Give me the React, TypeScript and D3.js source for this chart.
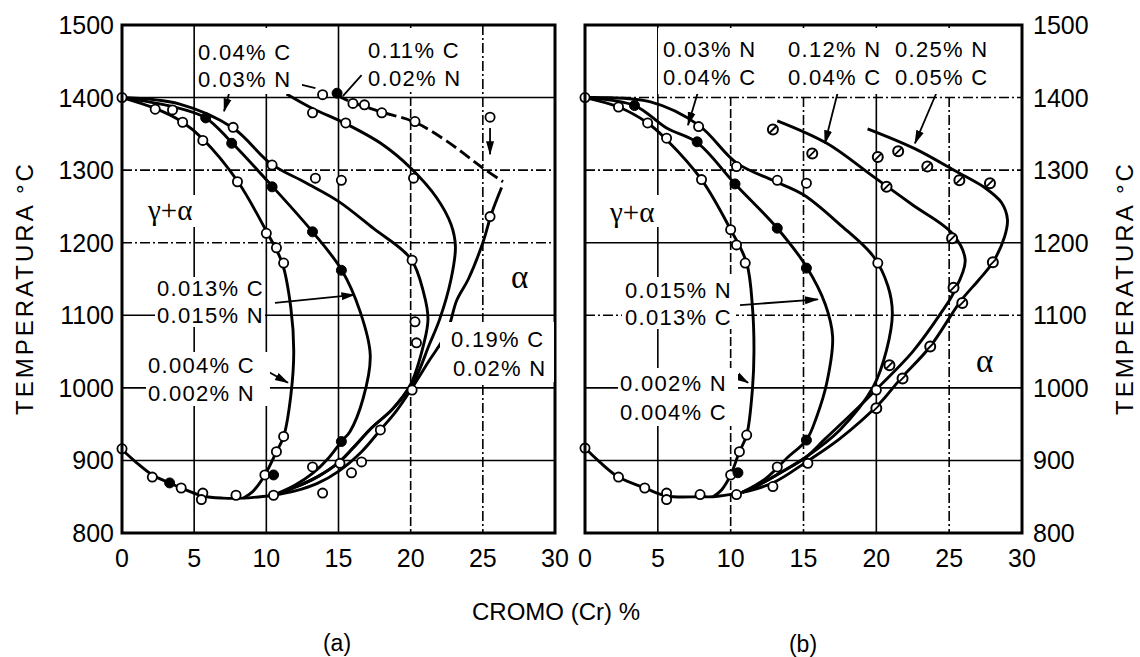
import React from 'react';
import * as d3 from 'd3';

type P = [number, number];

// ---------- axes ----------
const crTicks = [0, 5, 10, 15, 20, 25, 30];
const tempTicks = [800, 900, 1000, 1100, 1200, 1300, 1400, 1500];
const gridCr = [5, 10, 15, 20, 25];
const gridTemp = [900, 1000, 1100, 1200, 1300, 1400];

// ---------- panel (a) ----------
const aBottom: P[] = [[0, 915], [1, 897], [2.1, 880], [3.3, 869], [4.1, 862], [5.6, 851], [7, 848], [8.4, 848], [10.5, 852]];
const aLoop1: P[] = [[0, 1400], [2.3, 1385], [4.2, 1366], [5.6, 1343], [8, 1285], [10, 1216], [11.1, 1172], [11.7, 1110], [11.9, 1050], [11.7, 990], [11.2, 933], [10.7, 912], [9.9, 880], [9.1, 858], [8.4, 848]];
const aLoop2: P[] = [[0, 1400], [3.4, 1388], [5.8, 1372], [7.6, 1338], [10.4, 1278], [13.2, 1215], [15.2, 1163], [16.5, 1105], [17.2, 1045], [16.7, 985], [15.8, 940], [15.2, 926], [14.3, 903], [13.2, 882], [12, 866], [10.5, 852]];
const aLoop3: P[] = [[0, 1400], [4, 1391], [7.7, 1358], [10.3, 1309], [12.7, 1283], [15, 1257], [17.4, 1220], [20, 1178], [20.9, 1131], [21.2, 1095], [20.9, 1060], [20, 1005], [18.7, 970], [17.3, 945], [16, 917], [15, 897], [13.5, 877], [12, 863], [10.5, 852]];
const aLoop4: P[] = [[11.4, 1405], [13.2, 1385], [15.5, 1364], [18, 1336], [20, 1303], [21.8, 1262], [22.8, 1225], [23.1, 1195], [22.8, 1150], [22, 1094], [21.3, 1060], [20.2, 1008], [18.8, 972], [17.3, 945], [16, 917], [15, 897], [13.5, 877], [12, 863], [10.5, 852]];
const aLoop5Upper: P[] = [[14.9, 1403], [16, 1393], [18, 1380], [20.3, 1366], [22.5, 1340], [25, 1303], [26.4, 1284]];
const aLoop5Lower: P[] = [[26.3, 1276], [25.6, 1240], [25, 1200], [24, 1150], [23.2, 1121], [22.5, 1076], [21.2, 1035], [20, 997], [19, 968], [17.9, 942], [16.6, 912], [15, 885], [13.5, 868], [12, 858], [10.5, 852]];
const aOpen: P[] = [[0, 1400], [0, 916], [2.1, 877], [4.1, 862], [5.6, 855], [5.5, 846], [7.9, 852], [2.3, 1384], [3.5, 1383], [4.2, 1366], [5.6, 1341], [8.0, 1284], [10.0, 1213], [10.7, 1193], [11.2, 1172], [11.2, 933], [10.7, 912], [9.9, 880], [7.7, 1359], [10.4, 1307], [13.4, 1289], [15.2, 1286], [20.1, 1176], [13.2, 1379], [13.9, 1404], [15.5, 1365], [20.2, 1289], [16.0, 1392], [16.8, 1390], [18.0, 1379], [20.3, 1367], [25.5, 1373], [25.5, 1236], [20.3, 1091], [20.4, 1062], [20.1, 997], [17.9, 942], [16.6, 898], [15.9, 883], [13.9, 855], [13.2, 891], [15.1, 896], [10.5, 852]];
const aFilled: P[] = [[3.3, 869], [5.8, 1372], [7.6, 1337], [10.4, 1277], [13.2, 1215], [15.2, 1162], [15.2, 926], [10.5, 880], [14.9, 1406]];

// ---------- panel (b) ----------
const bBottom: P[] = [[0, 917], [1, 898], [2.3, 877], [4.1, 862], [5.6, 851], [7.9, 850], [8.8, 850], [10.8, 856]];
const bLoop1: P[] = [[0, 1400], [2.3, 1387], [4.3, 1365], [5.6, 1342], [8, 1287], [10, 1218], [11.1, 1172], [11.5, 1110], [11.6, 1050], [11.5, 1000], [11.1, 935], [10.6, 912], [10, 880], [9.4, 860], [8.8, 850]];
const bLoop2: P[] = [[0, 1400], [3.4, 1389], [5.6, 1358], [7.7, 1338], [10.3, 1281], [13.2, 1220], [15.2, 1167], [16.5, 1115], [17, 1070], [16.6, 1007], [15.9, 960], [15.2, 928], [13.9, 904], [12.4, 875], [10.8, 856]];
const bLoop3: P[] = [[0, 1400], [4.5, 1394], [7.8, 1362], [10.4, 1310], [13, 1285], [15, 1266], [17.5, 1225], [19.8, 1181], [20.8, 1140], [21.1, 1103], [20.7, 1052], [19.8, 1002], [17.5, 942], [15.2, 905], [13.4, 883], [12, 867], [10.8, 856]];
const bLoop4: P[] = [[13.2, 1368], [16.6, 1337], [19.8, 1291], [22.5, 1252], [25.2, 1213], [26.1, 1176], [25.3, 1131], [24.5, 1105], [22.5, 1050], [20.2, 1002], [18.4, 966], [16.5, 930], [15.2, 905], [13.5, 884], [12, 867], [10.8, 856]];
const bLoop5: P[] = [[19.4, 1357], [22.6, 1330], [25.5, 1298], [27.5, 1275], [28.6, 1255], [29, 1232], [28.8, 1208], [28, 1173], [27, 1148], [25.8, 1120], [23.7, 1057], [21.6, 1011], [20.2, 978], [17.5, 930], [15.2, 898], [12.9, 869], [10.8, 856]];
const bOpen: P[] = [[0, 1400], [0, 917], [2.3, 877], [4.1, 862], [5.6, 855], [5.6, 846], [7.9, 853], [10.4, 853], [2.3, 1387], [4.3, 1365], [5.6, 1344], [8.0, 1287], [10.0, 1218], [10.4, 1197], [11.0, 1172], [11.1, 935], [10.6, 912], [10.0, 880], [7.8, 1360], [10.4, 1305], [13.2, 1286], [15.2, 1282], [20.1, 1172], [13.2, 891], [12.9, 864], [15.3, 896], [20.0, 997]];
const bFilled: P[] = [[3.4, 1389], [7.7, 1339], [10.3, 1281], [13.2, 1220], [15.2, 1165], [10.5, 883], [15.2, 928]];
const bSlashed: P[] = [[12.9, 1356], [15.6, 1323], [20.1, 1318], [20.7, 1277], [25.2, 1206], [21.5, 1326], [23.5, 1305], [25.7, 1286], [27.8, 1282], [28, 1173], [25.3, 1138], [25.9, 1117], [20.9, 1031], [21.8, 1013], [20.0, 972], [23.7, 1057]];

// annotation arrows (data coords: from -> to, with arrowhead?)
const aArrows: [P, P, boolean][] = [
  [[7.48, 1410], [7.07, 1381], true],
  [[12.4, 1418], [13.4, 1413], false],
  [[16.6, 1431], [15.3, 1402], false],
  [[10.6, 1117], [16.1, 1128], true],
  [[9.98, 1024], [11.5, 1007], true],
  [[22.66, 1077], [21.97, 1056], false],
  [[25.5, 1358], [25.5, 1322], true],
];
const bArrows: [P, P, boolean][] = [
  [[7.76, 1408], [7.07, 1362], true],
  [[17.36, 1408], [16.47, 1337], true],
  [[24.16, 1408], [22.65, 1337], true],
  [[10.64, 1114], [15.99, 1122], true],
  [[9.81, 1024], [11.2, 1007], true],
];

const FONT = '"Liberation Sans", Arial, sans-serif';
const SERIF = '"Liberation Serif", "DejaVu Serif", serif';
const DD = '10 3 2 3';

const y = d3.scaleLinear().domain([800, 1500]).range([533, 25]);
const xA = d3.scaleLinear().domain([0, 30]).range([122, 555]);
const xB = d3.scaleLinear().domain([0, 30]).range([585, 1022]);

function Panel({ x, loops, dashedLoops, open, filled, slashed, arrows, vDash, hDash }: any) {
  const line = d3.line<P>().x(d => x(d[0])).y(d => y(d[1])).curve(d3.curveCatmullRom.alpha(0.5));
  const [x0, x1] = x.range();
  return (
    <g>
      {gridCr.map((c, i) => (
        <line key={'v' + c} x1={x(c)} x2={x(c)} y1={y(1500)} y2={y(800)} stroke="#000" strokeWidth={1.6} strokeDasharray={vDash[i]} />
      ))}
      {gridTemp.map((t, i) => (
        <line key={'h' + t} x1={x0} x2={x1} y1={y(t)} y2={y(t)} stroke="#000" strokeWidth={1.6} strokeDasharray={hDash[i]} />
      ))}
      {loops.map((l: P[], i: number) => (
        <path key={'l' + i} d={line(l) || ''} fill="none" stroke="#000" strokeWidth={2.9} strokeLinejoin="round" />
      ))}
      {dashedLoops.map((l: P[], i: number) => (
        <path key={'d' + i} d={line(l) || ''} fill="none" stroke="#000" strokeWidth={2.9} strokeDasharray="12 5" />
      ))}
      {open.map((p: P, i: number) => (
        <circle key={'o' + i} cx={x(p[0])} cy={y(p[1])} r={4.6} fill="#fff" stroke="#000" strokeWidth={1.8} />
      ))}
      {filled.map((p: P, i: number) => (
        <circle key={'f' + i} cx={x(p[0])} cy={y(p[1])} r={5} fill="#000" stroke="#000" strokeWidth={1} />
      ))}
      {slashed.map((p: P, i: number) => (
        <g key={'s' + i}>
          <circle cx={x(p[0])} cy={y(p[1])} r={5} fill="#fff" stroke="#000" strokeWidth={2} />
          <line x1={x(p[0]) - 3.5} y1={y(p[1]) + 3.5} x2={x(p[0]) + 3.5} y2={y(p[1]) - 3.5} stroke="#000" strokeWidth={1.8} />
        </g>
      ))}
      {arrows.map((a: [P, P, boolean], i: number) => (
        <line key={'a' + i} x1={x(a[0][0])} y1={y(a[0][1])} x2={x(a[1][0])} y2={y(a[1][1])} stroke="#000" strokeWidth={1.8}
          markerEnd={a[2] ? `url(#ah)` : undefined} />
      ))}
      <rect x={x0} y={y(1500)} width={x1 - x0} height={y(800) - y(1500)} fill="none" stroke="#000" strokeWidth={3} />
      {crTicks.map(c => (
        <text key={'t' + c} x={x(c)} y={567} textAnchor="middle" fontFamily={FONT} fontSize={25}>{c}</text>
      ))}
    </g>
  );
}

const Lbl = ({ x, y: yy, children }: any) => (
  <text x={x} y={yy} fontFamily={FONT} fontSize={22} letterSpacing={1.3}>{children}</text>
);

export default function App() {
  const white = (r: number[], k: string) => <rect key={k} x={r[0]} y={r[1]} width={r[2]} height={r[3]} fill="#fff" />;
  return (
    <svg width={1140} height={657} style={{ position: 'absolute', left: 0, top: 0, background: '#fff' }}>
      <defs>
        <marker id="ah" viewBox="0 0 14 14" refX="13" refY="7" markerWidth="14" markerHeight="14" orient="auto" markerUnits="userSpaceOnUse">
          <path d="M0,3 L14,7 L0,11 z" fill="#000" />
        </marker>
      </defs>
      <rect x={0} y={0} width={1140} height={657} fill="#fff" />
      <Panel x={xA} loops={[aBottom, aLoop1, aLoop2, aLoop3, aLoop4, aLoop5Lower]} dashedLoops={[aLoop5Upper]}
        open={aOpen} filled={aFilled} slashed={[]} arrows={aArrows}
        vDash={['', '', '', '9 3', DD]} hDash={['', '', '', DD, DD, '']} />
      <Panel x={xB} loops={[bBottom, bLoop1, bLoop2, bLoop3, bLoop4, bLoop5]} dashedLoops={[]}
        open={bOpen} filled={bFilled} slashed={bSlashed} arrows={bArrows}
        vDash={['', '9 3', DD, '', DD]} hDash={['', '', DD, '', DD, DD]} />

      {/* label backgrounds */}
      {[[196, 28, 106, 66], [365, 28, 104, 64], [146, 195, 55, 32], [155, 277, 110, 50], [146, 352, 124, 54], [440, 322, 114, 60],
        [658, 28, 360, 66], [606, 195, 60, 32], [622, 277, 114, 52], [618, 368, 120, 58]].map((r, i) => white(r, 'w' + i))}

      {/* panel (a) labels */}
      <Lbl x={198} y={60}>0.04% C</Lbl>
      <Lbl x={198} y={87}>0.03% N</Lbl>
      <Lbl x={368} y={58}>0.11% C</Lbl>
      <Lbl x={368} y={86}>0.02% N</Lbl>
      <text x={148} y={220} fontFamily={SERIF} fontSize={29}>γ+α</text>
      <Lbl x={157} y={296}>0.013% C</Lbl>
      <Lbl x={157} y={323}>0.015% N</Lbl>
      <Lbl x={148} y={373}>0.004% C</Lbl>
      <Lbl x={148} y={401}>0.002% N</Lbl>
      <text x={511} y={288} fontFamily={SERIF} fontSize={33}>α</text>
      <Lbl x={451} y={347}>0.19% C</Lbl>
      <Lbl x={453} y={376}>0.02% N</Lbl>

      {/* panel (b) labels */}
      <Lbl x={663} y={57}>0.03% N</Lbl>
      <Lbl x={663} y={85}>0.04% C</Lbl>
      <Lbl x={788} y={57}>0.12% N</Lbl>
      <Lbl x={788} y={85}>0.04% C</Lbl>
      <Lbl x={895} y={57}>0.25% N</Lbl>
      <Lbl x={895} y={85}>0.05% C</Lbl>
      <text x={610} y={222} fontFamily={SERIF} fontSize={29}>γ+α</text>
      <Lbl x={625} y={298}>0.015% N</Lbl>
      <Lbl x={625} y={325}>0.013% C</Lbl>
      <Lbl x={620} y={391}>0.002% N</Lbl>
      <Lbl x={620} y={420}>0.004% C</Lbl>
      <text x={976} y={372} fontFamily={SERIF} fontSize={33}>α</text>

      {/* y tick labels */}
      {tempTicks.map(t => (
        <text key={'ya' + t} x={114} y={y(t) + 9} textAnchor="end" fontFamily={FONT} fontSize={25}>{t}</text>
      ))}
      {tempTicks.map(t => (
        <text key={'yb' + t} x={1033} y={y(t) + 9} fontFamily={FONT} fontSize={25}>{t}</text>
      ))}

      {/* axis titles */}
      <text transform="translate(33,288) rotate(-90)" textAnchor="middle" fontFamily={FONT} fontSize={24} letterSpacing={3}>TEMPERATURA °C</text>
      <text transform="translate(1133,288) rotate(-90)" textAnchor="middle" fontFamily={FONT} fontSize={24} letterSpacing={3}>TEMPERATURA °C</text>
      <text x={556} y={620} textAnchor="middle" fontFamily={FONT} fontSize={24}>CROMO (Cr) %</text>
      <text x={337} y={651} textAnchor="middle" fontFamily={FONT} fontSize={23}>(a)</text>
      <text x={803} y={652} textAnchor="middle" fontFamily={FONT} fontSize={23}>(b)</text>
    </svg>
  );
}
